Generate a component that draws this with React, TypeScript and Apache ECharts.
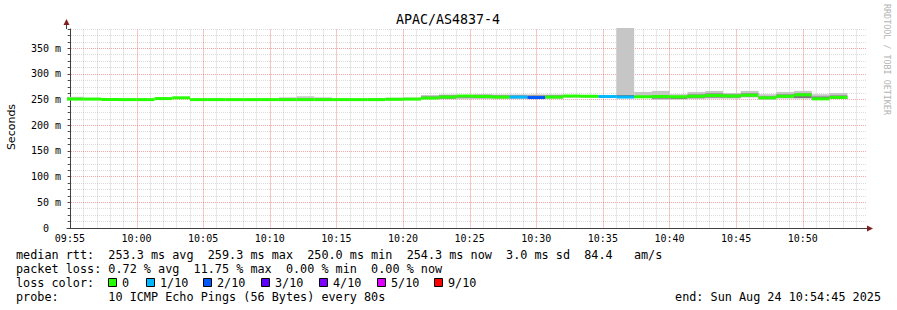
import React, { useEffect, useRef } from "react";
import * as echarts from "echarts";

// ---- data (seconds relative to 09:55:00) ----
const AXIS_START = -13; // 09:54:47
const AXIS_END = 3585; // 10:54:45
const PROBE_STEP = 80;
const FIRST_STEP_START = -19; // 09:54:41

const medians = [
  251, 251, 250, 250, 250, 252, 253.5, 250, 250, 250, 250, 250, 250, 250, 250, 250,
  250, 250, 250.5, 251, 253, 255, 257, 256, 255, 255, 254, 255, 257, 256.5, 256, 255,
  255.5, 256, 255.5, 256.5, 258, 257, 258.5, 253.5, 256.5, 259.3, 251.5, 254.3,
];
const losses = [
  0, 0, 0, 0, 0, 0, 0, 0, 0, 0, 0, 0, 0, 0, 0, 0,
  0, 0, 0, 0, 0, 0, 0, 0, 0, 1, 2, 0, 0, 0, 1, 1,
  0, 0, 0, 0, 0, 0, 0, 0, 0, 0, 0, 0,
];
const smokeLow = [
  250, 250, 250, 250, 250, 251, 252.5, 250, 250, 250, 250, 250, 250, 250, 250, 250,
  250, 250, 250, 250, 251, 250.5, 250.5, 251, 251, 251, 251, 251.5, 254, 254, 254, 254,
  253, 249.5, 250, 251, 252, 252, 254, 250, 252, 252, 250, 251,
];
const smokeHigh = [
  255.5, 253.5, 250, 250, 250, 252.5, 254, 250, 250, 250, 250, 250, 254.5, 256.5, 254.5, 250,
  250, 253, 254, 254, 259, 260, 259, 261, 260, 260, 260, 260, 259, 258.5, 258, 420,
  265, 267, 260.5, 265, 267, 263, 267, 260.5, 265, 267, 260.5, 263,
];
const coreLow = [
  250, 250, 250, 250, 250, 251, 252.5, 250, 250, 250, 250, 250, 250, 250, 250, 250,
  250, 250, 250, 250, 252, 252, 254, 253, 253, 253, 253, 253, 255, 255, 255, 256,
  254, 252, 251.5, 253, 254, 254, 256, 251, 254, 253, 251, 252,
];
const coreHigh = [
  250, 250, 250, 250, 250, 251, 252.5, 250, 250, 250, 250, 250, 250, 250, 250, 250,
  250, 250, 252, 252, 256, 258, 258, 259, 258, 258, 258, 258, 258, 258, 257, 259,
  257, 259, 257, 260, 262, 260, 262, 256, 260, 262, 256, 258,
];

const xTickValues = [0, 300, 600, 900, 1200, 1500, 1800, 2100, 2400, 2700, 3000, 3300];
const minuteLines = Array.from({ length: 60 }, (_, i) => i * 60);
const yLabelValues = [0, 50, 100, 150, 200, 250, 300, 350];

const lossLegend = ["0", "1/10", "2/10", "3/10", "4/10", "5/10", "9/10"];
const lossLegendColors = ["#26ff00", "#00b8ff", "#0059ff", "#5e00ff", "#7e00ff", "#dd00ff", "#ff0000"];

const title = "APAC/AS4837-4";
const statLines = [
  "median rtt:  253.3 ms avg  259.3 ms max  250.0 ms min  254.3 ms now  3.0 ms sd  84.4   am/s",
  "packet loss: 0.72 % avg  11.75 % max  0.00 % min  0.00 % now",
  "loss color:",
  "probe:       10 ICMP Echo Pings (56 Bytes) every 80s",
];
const endText = "end: Sun Aug 24 10:54:45 2025";

function lossColor(n: number): string {
  if (n <= 0) return lossLegendColors[0];
  if (n === 1) return lossLegendColors[1];
  if (n === 2) return lossLegendColors[2];
  if (n === 3) return lossLegendColors[3];
  if (n === 4) return lossLegendColors[4];
  if (n <= 8) return lossLegendColors[5];
  return lossLegendColors[6];
}

function fmtTime(v: number): string {
  const s = 9 * 3600 + 55 * 60 + v;
  const h = Math.floor(s / 3600);
  const m = Math.floor((s % 3600) / 60);
  return String(h).padStart(2, "0") + ":" + String(m).padStart(2, "0");
}

const MONO = "DejaVu Sans Mono";
const MINOR = "rgba(128,128,128,0.28)";
const MAJOR = "rgba(235,80,80,0.5)";
const GRID_TOP = 29;
const GRID_BOTTOM_Y = 228;

export default function App() {
  const ref = useRef<HTMLDivElement>(null);
  useEffect(() => {
    document.body.style.margin = "0";
    if (!ref.current) return;
    const chart = echarts.init(ref.current, null, { renderer: "svg" });

    const segs = medians.map((m, i) => {
      const s = FIRST_STEP_START + i * PROBE_STEP;
      return [s, s + PROBE_STEP, m, losses[i], smokeLow[i], smokeHigh[i], coreLow[i], coreHigh[i]];
    });

    const FS = 11.8;
    const rowY = [255, 268.5, 282.5, 296.5];
    const graphics: any[] = [
      {
        type: "text",
        x: 448,
        y: 19,
        style: { text: title, font: `13.3px ${MONO}`, fill: "#000", align: "center", verticalAlign: "middle" },
      },
      {
        type: "text",
        x: 11,
        y: 127,
        rotation: Math.PI / 2,
        style: { text: "Seconds", font: "11px DejaVu Sans", fill: "#000", align: "center", verticalAlign: "middle" },
      },
      {
        type: "text",
        x: 887,
        y: 4,
        rotation: -Math.PI / 2,
        style: {
          text: "RRDTOOL / TOBI OETIKER",
          font: `8.4px ${MONO}`,
          fill: "#b4b4b4",
          align: "left",
          verticalAlign: "middle",
        },
      },
      // axis extensions and arrows
      { type: "rect", z: 20, shape: { x: 66, y: 23, width: 1, height: 6 }, style: { fill: "#404040" } },
      { type: "polygon", z: 20, shape: { points: [[66.5, 19], [63.5, 25], [69.5, 25]] }, style: { fill: "#7f1f1f" } },
      { type: "rect", z: 20, shape: { x: 866, y: 228, width: 2, height: 1 }, style: { fill: "#404040" } },
      { type: "polygon", z: 20, shape: { points: [[873, 228.5], [867, 225.5], [867, 231.5]] }, style: { fill: "#7f1f1f" } },
    ];
    statLines.forEach((t, i) => {
      graphics.push({
        type: "text",
        x: 16,
        y: rowY[i],
        style: { text: t, font: `${FS}px ${MONO}`, fill: "#000", align: "left", verticalAlign: "middle" },
      });
    });
    const sqX = [108, 146, 203, 261, 319, 377, 434];
    lossLegend.forEach((t, i) => {
      graphics.push({
        type: "rect",
        shape: { x: sqX[i] + 0.5, y: 278.5, width: 8, height: 8 },
        style: { fill: lossLegendColors[i], stroke: "#000", lineWidth: 1 },
      });
      graphics.push({
        type: "text",
        x: sqX[i] + 14,
        y: rowY[2],
        style: { text: t, font: `${FS}px ${MONO}`, fill: "#000", align: "left", verticalAlign: "middle" },
      });
    });
    graphics.push({
      type: "text",
      x: 881,
      y: rowY[3],
      style: { text: endText, font: `${FS}px ${MONO}`, fill: "#000", align: "right", verticalAlign: "middle" },
    });

    chart.setOption({
      animation: false,
      backgroundColor: "#ffffff",
      grid: { left: 67, right: 31, top: GRID_TOP, bottom: 310 - GRID_BOTTOM_Y },
      xAxis: {
        type: "value",
        min: AXIS_START,
        max: AXIS_END,
        z: 15,
        axisLine: { show: true, lineStyle: { color: "#404040", width: 1 } },
        axisTick: { show: false },
        splitLine: { show: false },
        axisLabel: {
          customValues: xTickValues,
          formatter: (v: number) => fmtTime(v),
          fontFamily: MONO,
          fontSize: 10,
          color: "#000",
          margin: 5,
        },
      },
      yAxis: {
        type: "value",
        min: 0,
        max: 387.5,
        interval: 12.5,
        axisLine: { show: true, lineStyle: { color: "#404040", width: 1 } },
        axisTick: { show: true, length: 2, lineStyle: { color: "#404040" } },
        splitLine: {
          show: true,
          lineStyle: { color: [MAJOR, MINOR, MINOR, MINOR], type: [1, 1], width: 1 },
        },
        axisLabel: {
          formatter: (v: number) =>
            yLabelValues.indexOf(v) >= 0 ? (v === 0 ? "{z|0}" : `${v} m`) : "",
          fontFamily: MONO,
          fontSize: 10,
          color: "#000",
          margin: 6,
          rich: { z: { fontFamily: MONO, fontSize: 10, color: "#000", padding: [0, 12, 0, 0] } },
        },
      },
      series: [
        {
          type: "custom",
          z: 10,
          data: segs,
          encode: { x: [0, 1], y: [2] },
          renderItem: (params: any, api: any) => {
            const cs = params.coordSys;
            const t0 = api.value(0);
            const t1 = api.value(1);
            const med = api.value(2);
            const loss = api.value(3);
            const lo = api.value(4);
            const hi = api.value(5);
            const clo = api.value(6);
            const chi = api.value(7);
            const x0 = Math.max(api.coord([t0, 0])[0], cs.x);
            const x1 = Math.min(api.coord([t1, 0])[0], cs.x + cs.width);
            const yOf = (v: number) => Math.max(cs.y - 1, api.coord([t0, v])[1]);
            const band = (a: number, b: number, fill: string) => {
              const ya = yOf(b);
              const yb = yOf(a);
              return {
                type: "rect",
                shape: { x: x0, y: ya, width: x1 - x0, height: Math.max(yb - ya, 0) },
                style: { fill },
              };
            };
            const children: any[] = [];
            if (hi > lo) children.push(band(lo, hi, "#c6c6c6"));
            if (chi > clo) children.push(band(clo, chi, "#7a7a7a"));
            const ym = yOf(med);
            children.push({
              type: "rect",
              shape: { x: x0, y: ym - 1.5, width: x1 - x0, height: 3 },
              style: { fill: lossColor(loss) },
            });
            return { type: "group", children };
          },
        },
      ],
      graphic: graphics,
    });

    // vertical minute grid lines, positioned through the x axis scale
    const vLines = minuteLines.map((v) => {
      const x = Math.round(chart.convertToPixel({ xAxisIndex: 0 }, v) as number);
      return {
        type: "rect",
        z: 0,
        silent: true,
        shape: { x: x, y: GRID_TOP, width: 1, height: GRID_BOTTOM_Y - GRID_TOP },
        style: { fill: v % 300 === 0 ? "rgba(235,80,80,0.33)" : "rgba(128,128,128,0.18)" },
      };
    });
    chart.setOption({ graphic: vLines.concat(graphics) }, { replaceMerge: ["graphic"] });

    return () => chart.dispose();
  }, []);
  return <div ref={ref} style={{ width: 897, height: 310 }} />;
}
